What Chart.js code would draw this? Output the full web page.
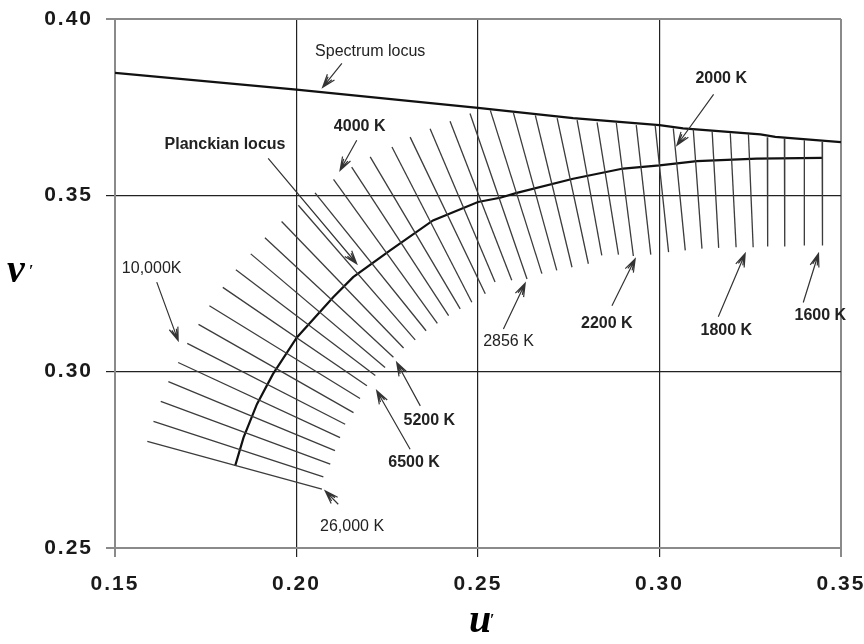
<!DOCTYPE html>
<html>
<head>
<meta charset="utf-8">
<script src="https://cdn.jsdelivr.net/npm/chart.js@4"></script>
<style>
  html, body { margin: 0; padding: 0; background: #fff; }
  #wrap { width: 864px; height: 644px; }
</style>
</head>
<body>
<div id="wrap"><canvas id="cctChart" width="864" height="644"></canvas></div>
<script>
/* axis ticks */
var xTicks = [0.15, 0.20, 0.25, 0.30, 0.35];
var yTicks = [0.25, 0.30, 0.35, 0.40];

/* spectrum locus (u', v') */
var spectrumU = [0.150, 0.200, 0.250, 0.2762, 0.300, 0.3065, 0.3278, 0.3319, 0.350];
var spectrumV = [0.3847, 0.3800, 0.3748, 0.3719, 0.3699, 0.3690, 0.3673, 0.3666, 0.3651];

/* Planckian locus (u', v') */
var planckU = [0.1831, 0.1854, 0.1891, 0.1935, 0.2001, 0.2101, 0.2156, 0.2258, 0.2376, 0.2500,
               0.2561, 0.2607, 0.2762, 0.2900, 0.3000, 0.3103, 0.3268, 0.3448];
var planckV = [0.2733, 0.2813, 0.2908, 0.2993, 0.3097, 0.3211, 0.3268, 0.3344, 0.3429, 0.3481,
               0.3493, 0.3507, 0.3547, 0.3576, 0.3585, 0.3597, 0.3604, 0.3606];

/* isotemperature lines: upper-left end (u1, v1) and lower-right end (u2, v2) */
var isoU1 = [0.1589, 0.1606, 0.1626, 0.1647, 0.1674, 0.1699, 0.1730, 0.1760, 0.1797, 0.1833,
             0.1874, 0.1913, 0.1959, 0.2005, 0.2051, 0.2102, 0.2152, 0.2203, 0.2263, 0.2313,
             0.2368, 0.2423, 0.2478, 0.2534, 0.2597, 0.2658, 0.2718, 0.2773, 0.2828, 0.2881,
             0.2936, 0.2988, 0.3038, 0.3093, 0.3145, 0.3195, 0.3245, 0.3297, 0.3344, 0.3399, 0.3448];
var isoV1 = [0.2802, 0.2859, 0.2916, 0.2972, 0.3026, 0.3080, 0.3134, 0.3187, 0.3239, 0.3289,
             0.3334, 0.3380, 0.3426, 0.3472, 0.3507, 0.3545, 0.3580, 0.3609, 0.3637, 0.3665,
             0.3689, 0.3710, 0.3732, 0.3741, 0.3736, 0.3727, 0.3719, 0.3713, 0.3707, 0.3705,
             0.3699, 0.3699, 0.3690, 0.3687, 0.3682, 0.3676, 0.3673, 0.3665, 0.3662, 0.3656, 0.3651];
var isoU2 = [0.2070, 0.2074, 0.2093, 0.2106, 0.2120, 0.2134, 0.2157, 0.2175, 0.2194, 0.2217,
             0.2244, 0.2267, 0.2295, 0.2327, 0.2357, 0.2388, 0.2419, 0.2451, 0.2483, 0.2520,
             0.2547, 0.2593, 0.2635, 0.2676, 0.2717, 0.2759, 0.2804, 0.2841, 0.2887, 0.2928,
             0.2976, 0.3025, 0.3071, 0.3117, 0.3163, 0.3211, 0.3258, 0.3298, 0.3345, 0.3399, 0.3449];
var isoV2 = [0.2667, 0.2702, 0.2738, 0.2776, 0.2813, 0.2851, 0.2884, 0.2924, 0.2960, 0.2989,
             0.3012, 0.3041, 0.3067, 0.3090, 0.3116, 0.3137, 0.3159, 0.3178, 0.3197, 0.3221,
             0.3254, 0.3259, 0.3263, 0.3278, 0.3287, 0.3296, 0.3306, 0.3330, 0.3332, 0.3328,
             0.3332, 0.3339, 0.3344, 0.3349, 0.3351, 0.3353, 0.3353, 0.3355, 0.3355, 0.3358, 0.3358];

/* annotations: text, label centre, arrow tail and tip (u', v') */
var noteText = ['Spectrum locus', 'Planckian locus', '4000 K', '10,000K', '5200 K', '6500 K',
                '26,000 K', '2856 K', '2200 K', '1800 K', '1600 K', '2000 K'];
var noteU = [0.2203, 0.1803, 0.2174, 0.1601, 0.2366, 0.2324, 0.2153, 0.2584, 0.2855, 0.3184, 0.3443, 0.3170];
var noteV = [0.3907, 0.3645, 0.3694, 0.3292, 0.2861, 0.2742, 0.2560, 0.3085, 0.3137, 0.3116, 0.3159, 0.3830];
var tailU = [0.2125, 0.1922, 0.2166, 0.1615, 0.2341, 0.2313, 0.2115, 0.2570, 0.2869, 0.3162, 0.3396, 0.3149];
var tailV = [0.3874, 0.3605, 0.3656, 0.3254, 0.2903, 0.2780, 0.2624, 0.3121, 0.3187, 0.3156, 0.3196, 0.3786];
var tipU  = [0.2072, 0.2166, 0.2120, 0.1674, 0.2276, 0.2221, 0.2079, 0.2630, 0.2933, 0.3236, 0.3438, 0.3048];
var tipV  = [0.3806, 0.3306, 0.3571, 0.3088, 0.3026, 0.2946, 0.2662, 0.3251, 0.3320, 0.3335, 0.3335, 0.3642];

var boldNotes = ['Planckian locus', '4000 K', '2000 K', '5200 K', '6500 K', '2200 K', '1800 K', '1600 K'];

function toPoints(us, vs) {
    var pts = [];
    for (var i = 0; i < us.length; i++) {
        pts.push({x: us[i], y: vs[i]});
    }
    return pts;
}

var datasets = [];
for (var i = 0; i < isoU1.length; i++) {
    datasets.push({
        data: [{x: isoU1[i], y: isoV1[i]}, {x: isoU2[i], y: isoV2[i]}],
        borderColor: '#3c3c3c',
        borderWidth: 1.3
    });
}
datasets.push({ data: toPoints(planckU, planckV), borderColor: '#111', borderWidth: 2.2 });
datasets.push({ data: toPoints(spectrumU, spectrumV), borderColor: '#111', borderWidth: 2.2 });

function isEdge(v, list) {
    return Math.abs(v - list[0]) < 1e-6 || Math.abs(v - list[list.length - 1]) < 1e-6;
}

/* arrows, labels and axis letters */
var notesPlugin = {
    id: 'notes',
    beforeDraw: function(chart) {
        chart.ctx.letterSpacing = '2px';
    },
    afterDraw: function(chart) {
        var ctx = chart.ctx;
        var xs = chart.scales.x, ys = chart.scales.y;
        ctx.save();
        ctx.letterSpacing = '0px';
        ctx.strokeStyle = '#333';
        ctx.lineWidth = 1.2;
        for (var i = 0; i < noteText.length; i++) {
            var x1 = xs.getPixelForValue(tailU[i]), y1 = ys.getPixelForValue(tailV[i]);
            var x2 = xs.getPixelForValue(tipU[i]), y2 = ys.getPixelForValue(tipV[i]);
            var a = Math.atan2(y2 - y1, x2 - x1);
            ctx.beginPath();
            ctx.moveTo(x1, y1);
            ctx.lineTo(x2, y2);
            ctx.moveTo(x2 - 14 * Math.cos(a - 0.33), y2 - 14 * Math.sin(a - 0.33));
            ctx.lineTo(x2, y2);
            ctx.lineTo(x2 - 14 * Math.cos(a + 0.33), y2 - 14 * Math.sin(a + 0.33));
            ctx.moveTo(x2 - 12 * Math.cos(a - 0.2), y2 - 12 * Math.sin(a - 0.2));
            ctx.lineTo(x2 - 2 * Math.cos(a), y2 - 2 * Math.sin(a));
            ctx.lineTo(x2 - 12 * Math.cos(a + 0.2), y2 - 12 * Math.sin(a + 0.2));
            ctx.stroke();

            var bold = boldNotes.indexOf(noteText[i]) >= 0;
            ctx.font = (bold ? 'bold ' : '') + '16px "Liberation Sans", Arial, sans-serif';
            ctx.fillStyle = '#222';
            ctx.textAlign = 'center';
            ctx.textBaseline = 'middle';
            ctx.fillText(noteText[i], xs.getPixelForValue(noteU[i]), ys.getPixelForValue(noteV[i]));
        }

        /* axis letters u' and v' */
        ctx.fillStyle = '#000';
        ctx.textAlign = 'left';
        ctx.textBaseline = 'alphabetic';
        ctx.font = 'italic bold 40px "Liberation Serif", "DejaVu Serif", serif';
        ctx.fillText('u', 469, 632);
        ctx.fillText('v', 7, 282);
        ctx.font = 'bold 16px "Liberation Serif", serif';
        ctx.fillText('\u2032', 490, 625);
        ctx.fillText('\u2032', 29, 276);
        ctx.restore();
    }
};

var ctx = document.getElementById('cctChart').getContext('2d');
var chart = new Chart(ctx, {
    type: 'scatter',
    data: { datasets: datasets },
    options: {
        responsive: false,
        animation: false,
        showLine: true,
        elements: { point: { radius: 0 }, line: { tension: 0 } },
        layout: { padding: { left: 0, top: 19, right: 23, bottom: 0 } },
        plugins: { legend: { display: false }, tooltip: { enabled: false } },
        scales: {
            x: {
                type: 'linear',
                min: 0.15,
                max: 0.35,
                afterBuildTicks: function(scale) {
                    scale.ticks = xTicks.map(function(v) { return {value: v}; });
                },
                afterFit: function(scale) {
                    scale.height = 96;
                    scale.paddingLeft = 0;
                    scale.paddingRight = 0;
                },
                ticks: {
                    padding: 15,
                    color: '#1a1a1a',
                    font: { family: '"Liberation Sans", Arial, sans-serif', size: 21, weight: 'bold' },
                    callback: function(v) { return v.toFixed(2); }
                },
                grid: {
                    tickLength: 9,
                    color: function(c) { return isEdge(c.tick.value, xTicks) ? '#8a8a8a' : '#222'; },
                    lineWidth: function(c) { return isEdge(c.tick.value, xTicks) ? 2 : 1.2; }
                },
                border: { color: '#8a8a8a', width: 2 }
            },
            y: {
                type: 'linear',
                min: 0.25,
                max: 0.40,
                afterBuildTicks: function(scale) {
                    scale.ticks = yTicks.map(function(v) { return {value: v}; });
                },
                afterFit: function(scale) {
                    scale.width = 115;
                    scale.paddingTop = 0;
                    scale.paddingBottom = 0;
                },
                ticks: {
                    padding: 13,
                    color: '#1a1a1a',
                    font: { family: '"Liberation Sans", Arial, sans-serif', size: 21, weight: 'bold' },
                    callback: function(v) { return v.toFixed(2); }
                },
                grid: {
                    tickLength: 9,
                    color: function(c) { return isEdge(c.tick.value, yTicks) ? '#8a8a8a' : '#222'; },
                    lineWidth: function(c) { return isEdge(c.tick.value, yTicks) ? 2 : 1.2; }
                },
                border: { color: '#8a8a8a', width: 2 }
            }
        }
    },
    plugins: [notesPlugin]
});
</script>
</body>
</html>
